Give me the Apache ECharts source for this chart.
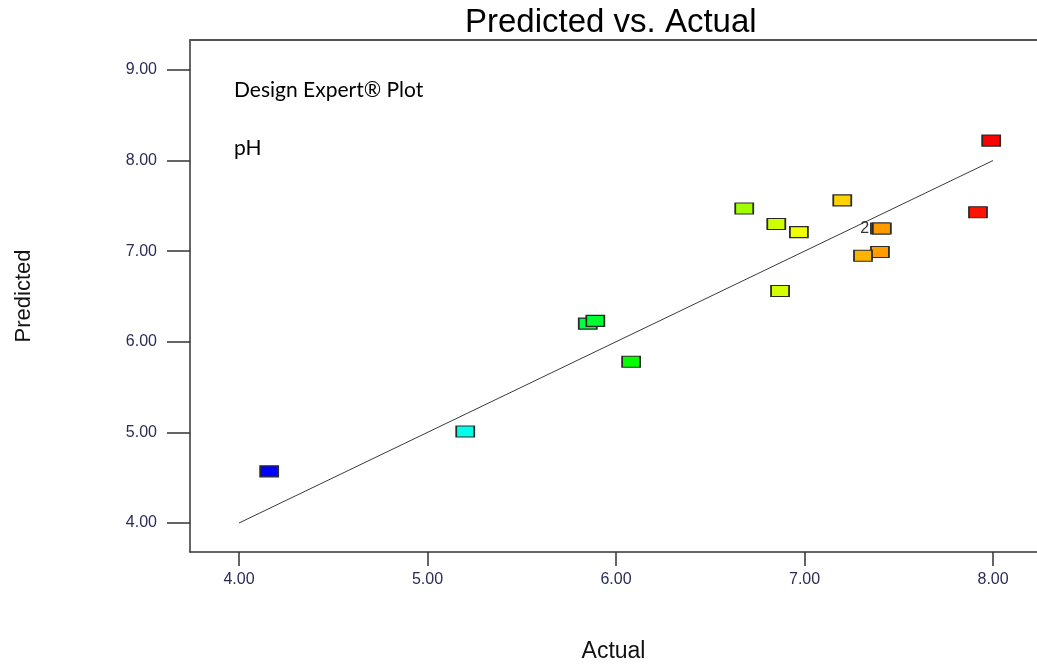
<!DOCTYPE html>
<html>
<head>
<meta charset="utf-8">
<title>Predicted vs. Actual</title>
<script src="https://cdn.jsdelivr.net/npm/echarts@6/dist/echarts.min.js"></script>
<style>
  html, body { margin: 0; padding: 0; background: #ffffff; }
  #chart { width: 1037px; height: 664px; }
</style>
</head>
<body>
<div id="chart"></div>
<script>
// Actual vs. predicted pH for each run
const actual    = [4.16, 5.20, 5.85, 5.89, 6.08, 6.68, 6.85, 6.97, 6.87, 7.20, 7.40, 7.41, 7.40, 7.31, 7.99, 7.92];
const predicted = [4.57, 5.01, 6.20, 6.23, 5.78, 7.47, 7.30, 7.21, 6.56, 7.56, 7.25, 7.25, 6.99, 6.95, 8.22, 7.43];
// count marker for coincident runs
const pointMarks = ['', '', '', '', '', '', '', '', '', '', '2', '', '', '', '', ''];
// 1:1 reference line
const diagonal = [[4, 4], [8, 8]];
const xTicks = [4, 5, 6, 7, 8];
const yTicks = [4, 5, 6, 7, 8, 9];

const tickColor = '#2b2b5a';
const sans = 'Liberation Sans, Arial, sans-serif';
const chart = echarts.init(document.getElementById('chart'));

const points = actual.map((a, i) => {
  const item = { value: [a, predicted[i]] };
  if (pointMarks[i]) {
    item.label = {
      show: true, formatter: pointMarks[i], position: 'left', distance: 1,
      fontFamily: sans, fontSize: 16, color: '#333333'
    };
  }
  return item;
});

chart.setOption({
  animation: false,
  backgroundColor: '#ffffff',
  graphic: [
    { type: 'text', x: 465, y: 23,
      style: { text: 'Predicted vs. Actual', font: '33px "Liberation Sans", Arial, sans-serif',
               fill: '#000000', verticalAlign: 'middle' } },
    { type: 'text', left: 234, top: 80,
      style: { text: 'Design Expert® Plot', font: '21px Lato, "Open Sans", sans-serif', fill: '#000000' } },
    { type: 'text', left: 234, top: 138,
      style: { text: 'pH', font: '21px Lato, "Open Sans", sans-serif', fill: '#000000' } }
  ],
  visualMap: {
    show: false, type: 'continuous', seriesIndex: 0, dimension: 0,
    min: 4.16, max: 7.99,
    inRange: { color: ['#0000ff', '#00ffff', '#00ff00', '#ffff00', '#ff0000'] }
  },
  grid: { left: 190, top: 40, right: 0, bottom: 112, outerBoundsMode: 'none', containLabel: false },
  xAxis: [{
    type: 'value', min: 3.74, max: 8.233,
    name: 'Actual', nameLocation: 'middle', nameGap: 88,
    nameTextStyle: { fontFamily: sans, fontSize: 23, color: '#111111' },
    axisLine: { show: true, onZero: false, lineStyle: { color: '#333333', width: 1.5 } },
    axisTick: { show: true, length: 14, customValues: xTicks, lineStyle: { color: '#333333', width: 1.5 } },
    axisLabel: {
      customValues: xTicks, margin: 20,
      formatter: v => v.toFixed(2),
      fontFamily: sans, fontSize: 16, color: tickColor
    },
    splitLine: { show: false }
  }, {
    type: 'value', position: 'top', min: 3.74, max: 8.233,
    axisLine: { show: true, onZero: false, lineStyle: { color: '#555555', width: 2 } },
    axisTick: { show: false }, axisLabel: { show: false }, splitLine: { show: false }
  }],
  yAxis: {
    type: 'value', min: 3.68, max: 9.33,
    name: 'Predicted', nameLocation: 'middle', nameGap: 155, nameRotate: 90,
    nameTextStyle: { fontFamily: sans, fontSize: 22, color: '#111111' },
    axisLine: { show: true, onZero: false, lineStyle: { color: '#333333', width: 1.5 } },
    axisTick: { show: true, length: 23, customValues: yTicks, lineStyle: { color: '#333333', width: 1.5 } },
    axisLabel: {
      customValues: yTicks, margin: 33,
      formatter: v => v.toFixed(2),
      fontFamily: sans, fontSize: 16, color: tickColor
    },
    splitLine: { show: false }
  },
  series: [{
    type: 'scatter',
    symbol: 'rect', symbolSize: [18, 11],
    itemStyle: { borderColor: '#2a2a2a', borderWidth: 1.4, opacity: 1 },
    data: points,
    z: 3
  }, {
    type: 'line',
    data: diagonal,
    symbol: 'none',
    lineStyle: { color: '#3a3a3a', width: 1 },
    z: 2,
    silent: true
  }]
});
</script>
</body>
</html>
